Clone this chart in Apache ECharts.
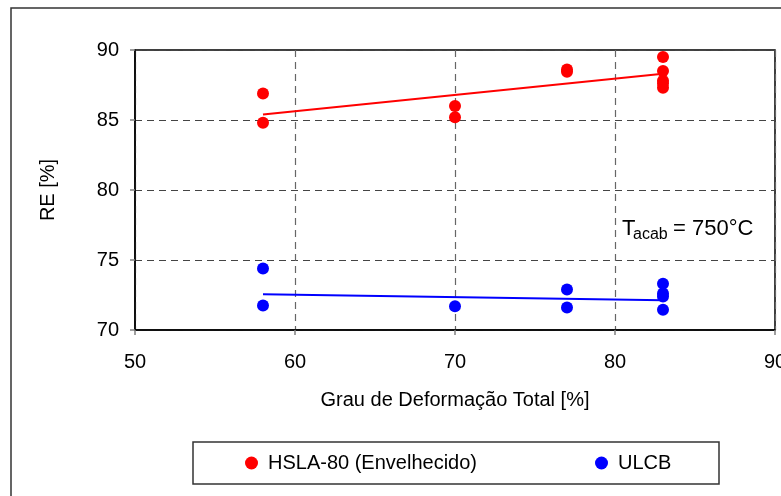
<!DOCTYPE html>
<html>
<head>
<meta charset="utf-8">
<script src="https://cdn.jsdelivr.net/npm/echarts@6/dist/echarts.min.js"></script>
<style>html,body{margin:0;padding:0;background:#fff}#c{width:781px;height:496px}</style>
</head>
<body>
<div id="c"></div>
<script>
const xTicks = [50, 60, 70, 80, 90];
const yTicks = [70, 75, 80, 85, 90];
const hslaName = 'HSLA-80 (Envelhecido)';
const ulcbName = 'ULCB';
const hslaX = [58, 58, 70, 70, 77, 77, 83, 83, 83, 83, 83];
const hslaY = [86.9, 84.8, 86.0, 85.2, 88.6, 88.45, 89.5, 88.5, 87.8, 87.6, 87.3];
const ulcbX = [58, 58, 70, 77, 77, 83, 83, 83, 83];
const ulcbY = [74.4, 71.75, 71.7, 72.9, 71.6, 73.3, 72.6, 72.4, 71.45];
const hslaTrendX = [58, 83];
const hslaTrendY = [85.4, 88.3];
const ulcbTrendX = [58, 83];
const ulcbTrendY = [72.55, 72.12];
const annotation = { main: 'T', sub: 'acab', rest: '= 750°C' };

const pairs = (xs, ys) => xs.map((x, i) => [x, ys[i]]);
const FONT = '"Liberation Sans", Arial, sans-serif';

const chart = echarts.init(document.getElementById('c'), null, { renderer: 'canvas' });
chart.setOption({
  animation: false,
  backgroundColor: '#fff',
  grid: { left: 135, right: 6, top: 50, bottom: 166, containLabel: false, outerBoundsMode: 'none',
          show: true, borderColor: '#000', borderWidth: 1.5, backgroundColor: 'transparent' },
  xAxis: {
    type: 'value', min: xTicks[0], max: xTicks[xTicks.length - 1], interval: 10,
    name: 'Grau de Deformação Total [%]', nameLocation: 'middle', nameGap: 60,
    nameTextStyle: { fontFamily: FONT, fontSize: 20, color: '#000' },
    axisLine: { show: true, lineStyle: { color: '#000', width: 1.5 } },
    axisTick: { show: true, length: 5, lineStyle: { color: '#808080', width: 1.5 } },
    axisLabel: { fontFamily: FONT, fontSize: 20, color: '#000', margin: 22, hideOverlap: false, showMaxLabel: true, showMinLabel: true },
    splitLine: { show: true, lineStyle: { color: '#666', type: [7, 5], width: 1.2 } }
  },
  yAxis: {
    type: 'value', min: yTicks[0], max: yTicks[yTicks.length - 1], interval: 5,
    name: 'RE [%]', nameLocation: 'middle', nameGap: 77, nameRotate: 90,
    nameTextStyle: { fontFamily: FONT, fontSize: 20, color: '#000' },
    axisLine: { show: true, lineStyle: { color: '#000', width: 1.5 } },
    axisTick: { show: true, length: 5, lineStyle: { color: '#808080', width: 1.5 } },
    axisLabel: { fontFamily: FONT, fontSize: 20, color: '#000', margin: 16 },
    splitLine: { show: true, lineStyle: { color: '#444', type: [7, 5], width: 1 } }
  },
  legend: [
    { data: [hslaName], left: 245, top: 452, padding: 0, icon: 'circle', itemWidth: 23, itemHeight: 13, itemGap: 8,
      itemStyle: { opacity: 1 },
      textStyle: { fontFamily: FONT, fontSize: 20, color: '#000', lineHeight: 22 } },
    { data: [ulcbName], left: 595, top: 452, padding: 0, icon: 'circle', itemWidth: 23, itemHeight: 13, itemGap: 8,
      itemStyle: { opacity: 1 },
      textStyle: { fontFamily: FONT, fontSize: 20, color: '#000', lineHeight: 22 } }
  ],
  graphic: [
    { type: 'rect', shape: { x: 11, y: 8, width: 800, height: 520 }, style: { fill: 'none', stroke: '#333', lineWidth: 1.5 }, silent: true, z: -1 },
    { type: 'rect', shape: { x: 193, y: 442, width: 526, height: 42 }, style: { fill: 'none', stroke: '#333', lineWidth: 1.5 }, silent: true },
    { type: 'text', left: 622, top: 218, style: { text: annotation.main, font: '22px ' + FONT, fill: '#000' } },
    { type: 'text', left: 633, top: 227, style: { text: annotation.sub, font: '16px ' + FONT, fill: '#000' } },
    { type: 'text', left: 673, top: 218, style: { text: annotation.rest, font: '22px ' + FONT, fill: '#000' } }
  ],
  series: [
    { name: hslaName, type: 'scatter', data: pairs(hslaX, hslaY), symbol: 'circle', symbolSize: 12, itemStyle: { color: '#ff0000', opacity: 1 }, z: 3 },
    { name: ulcbName, type: 'scatter', data: pairs(ulcbX, ulcbY), symbol: 'circle', symbolSize: 12, itemStyle: { color: '#0000ff', opacity: 1 }, z: 3 },
    { name: 'hslaTrend', type: 'line', data: pairs(hslaTrendX, hslaTrendY), showSymbol: false, lineStyle: { color: '#ff0000', width: 2 }, itemStyle: { color: '#ff0000' }, z: 4 },
    { name: 'ulcbTrend', type: 'line', data: pairs(ulcbTrendX, ulcbTrendY), showSymbol: false, lineStyle: { color: '#0000ff', width: 2 }, itemStyle: { color: '#0000ff' }, z: 4 }
  ]
});
</script>
</body>
</html>
